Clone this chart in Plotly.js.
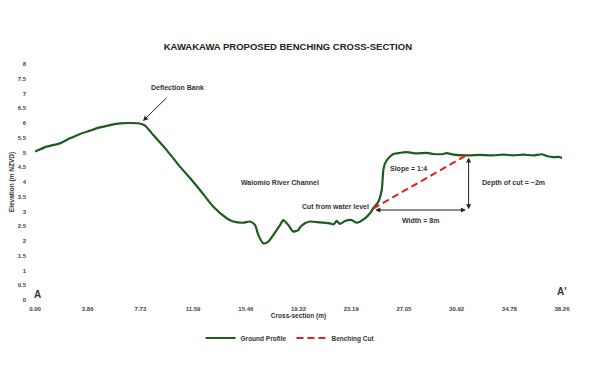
<!DOCTYPE html>
<html>
<head>
<meta charset="utf-8">
<script src="https://cdn.plot.ly/plotly-3.0.1.min.js"></script>
<style>html,body{margin:0;padding:0;background:#fff;}#chart{width:601px;height:371px;}</style>
</head>
<body>
<div id="chart"></div>
<script>
// Ground profile (cross-section distance in m, elevation in m NZVD)
var groundX = [0, 0.86, 1.83, 2.57, 3.30, 4.03, 4.77, 5.50, 6.23, 6.97, 7.58, 8.07, 8.68, 9.66, 10.63, 11.49,
  12.10, 13.08, 14.06, 14.54, 15.28, 15.77, 16.14, 16.38, 16.75, 17.11, 17.72, 17.97, 18.21, 18.58, 18.94, 19.31,
  19.43, 19.80, 20.17, 20.90, 21.63, 21.88, 22.13, 22.37, 22.74, 23.23, 23.59,
  24.20, 24.57, 24.81, 25.18, 25.43, 25.55, 25.67, 25.91, 26.28,
  26.53, 27.26, 27.99, 28.72, 29.21, 29.94, 30.19, 30.68, 31.66, 32.64, 33.61, 34.35, 35.08, 35.81, 36.55, 37.16, 37.53, 38.01, 38.38, 38.75];
var groundY = [5.03, 5.20, 5.31, 5.48, 5.63, 5.74, 5.85, 5.93, 5.99, 6.00, 5.99, 5.91, 5.59, 5.08, 4.52, 4.07,
  3.73, 3.16, 2.77, 2.66, 2.62, 2.66, 2.54, 2.20, 1.92, 1.98, 2.37, 2.54, 2.71, 2.54, 2.32, 2.37,
  2.46, 2.60, 2.66, 2.63, 2.60, 2.56, 2.68, 2.58, 2.68, 2.71, 2.62,
  2.77, 2.94, 3.11, 3.33, 3.73, 4.41, 4.63, 4.80, 4.95,
  4.97, 5.01, 4.97, 4.99, 4.95, 4.95, 4.98, 4.93, 4.90, 4.92, 4.90, 4.93, 4.90, 4.93, 4.90, 4.94, 4.88, 4.84, 4.85, 4.80];

// Benching cut (from water level up to top of bank)
var cutX = [24.8, 31.7];
var cutY = [3.1, 4.92];

// Tick positions and labels
var xTickVals = [0, 3.865, 7.73, 11.595, 15.46, 19.325, 23.19, 27.055, 30.92, 34.785, 38.65];
var xTickText = ["0.00", "3.86", "7.73", "11.59", "15.46", "19.32", "23.19", "27.05", "30.92", "34.78", "38.26"];
var yTickVals = [0, 0.5, 1, 1.5, 2, 2.5, 3, 3.5, 4, 4.5, 5, 5.5, 6, 6.5, 7, 7.5, 8];

var FONT = "Liberation Sans, Arial, sans-serif";
var TXT = "#333333";

var traces = [
  {x: groundX, y: groundY, type: "scatter", mode: "lines", name: "Ground Profile",
   line: {color: "#1d5c1d", width: 2.2, shape: "spline", smoothing: 0.6}},
  {x: cutX, y: cutY, type: "scatter", mode: "lines", name: "Benching Cut",
   line: {color: "#e0201c", width: 2, dash: "7px,4px"}}
];

function txt(t, x, y, opts) {
  var a = {text: t, x: x, y: y, xref: "x", yref: "y", showarrow: false,
    font: {family: FONT, size: 7, color: TXT, weight: "bold"}};
  for (var k in opts) a[k] = opts[k];
  return a;
}
function arrow(x, y, ax, ay, side) {
  return {text: "", x: x, y: y, ax: ax, ay: ay, xref: "x", yref: "y", axref: "x", ayref: "y",
    showarrow: true, arrowhead: 2, arrowsize: 1, arrowwidth: 1, arrowcolor: "#222222",
    arrowside: side || "end", standoff: 0, startstandoff: 0};
}

var annotations = [
  txt("Deflection Bank", 10.48, 7.22),
  arrow(7.92, 6.07, 9.75, 6.9),
  txt("Waiomio River Channel", 17.97, 4.0),
  txt("Cut from water level", 24.64, 3.17, {xanchor: "right"}),
  txt("Slope = 1:4", 27.36, 4.44),
  txt("Depth of cut = ~2m", 35.06, 3.97),
  txt("Width = 8m", 28.24, 2.71),
  arrow(31.6, 3.05, 24.85, 3.05, "end+start"),
  arrow(31.8, 3.08, 31.8, 4.88, "end+start"),
  txt("A", 0.15, 0.17, {font: {family: FONT, size: 10, color: TXT, weight: "bold"}}),
  txt("A'", 38.65, 0.30, {font: {family: FONT, size: 10, color: TXT, weight: "bold"}})
];

var layout = {
  width: 601, height: 371,
  margin: {l: 35, r: 39, t: 64, b: 71},
  paper_bgcolor: "#ffffff", plot_bgcolor: "#ffffff",
  title: {text: "KAWAKAWA PROPOSED BENCHING CROSS-SECTION", x: 0.479, xref: "container", xanchor: "center",
    y: 0.873, yref: "container", yanchor: "middle",
    font: {family: FONT, size: 9.5, color: "#222222", weight: "bold"}},
  xaxis: {range: [0, 38.65], tickmode: "array", tickvals: xTickVals, ticktext: xTickText,
    showgrid: false, zeroline: false, showline: false, ticks: "", ticklabelstandoff: 4,
    tickfont: {family: FONT, size: 6, color: "#444444", weight: "bold"},
    title: {text: "Cross-section (m)", standoff: 2, font: {family: FONT, size: 6.5, color: TXT, weight: "bold"}}},
  yaxis: {range: [0, 8], tickmode: "array", tickvals: yTickVals,
    showgrid: false, zeroline: false, showline: false, ticks: "", ticklabelstandoff: 8,
    tickfont: {family: FONT, size: 6, color: "#444444", weight: "bold"},
    title: {text: "Elevation (m NZVD)", standoff: 2, font: {family: FONT, size: 6.5, color: TXT, weight: "bold"}}},
  showlegend: true,
  legend: {orientation: "h", x: 0.484, xanchor: "center", y: -0.161, yanchor: "middle",
    font: {family: FONT, size: 6.5, color: TXT, weight: "bold"}, itemwidth: 30, bgcolor: "rgba(0,0,0,0)"},
  annotations: annotations
};

Plotly.newPlot("chart", traces, layout, {displayModeBar: false, staticPlot: true});
</script>
</body>
</html>
